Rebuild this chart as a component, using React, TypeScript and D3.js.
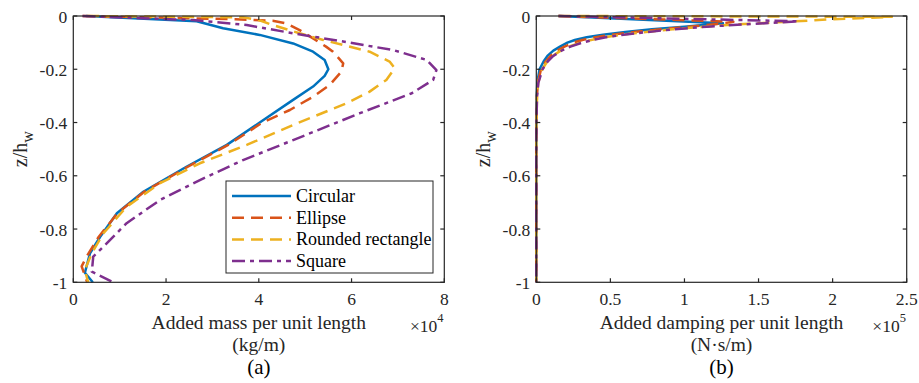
import React from "react";
import * as d3 from "d3";

const seriesNames = ["Circular", "Ellipse", "Rounded rectangle", "Square"];
const colors = ["#0072BD", "#D95319", "#EDB120", "#7E2F8E"];
const dashes = ["none", "12,7", "12,7", "13,5,4,5"];

const zTicks = [0, -0.2, -0.4, -0.6, -0.8, -1];
const massTicks = [0, 2, 4, 6, 8];
const dampTicks = [0, 0.5, 1, 1.5, 2, 2.5];

// Added mass per unit length (x 1e4 kg/m), pairs [value, z/hw]
const massCircular: [number, number][] = [
  [0.27, 0], [2.66, -0.02], [3.23, -0.046], [4.02, -0.071], [4.74, -0.103], [5.17, -0.134],
  [5.42, -0.165], [5.5, -0.2], [5.42, -0.225], [5.17, -0.265], [4.74, -0.315], [4.02, -0.4],
  [3.31, -0.484], [2.44, -0.566], [1.51, -0.66], [0.94, -0.741], [0.58, -0.829], [0.36, -0.891],
  [0.25, -0.964], [0.42, -1],
];
const massEllipse: [number, number][] = [
  [0.2, 0], [3.5, -0.012], [4.3, -0.018], [4.6, -0.028], [4.88, -0.053], [5.17, -0.084],
  [5.45, -0.115], [5.6, -0.134], [5.82, -0.178], [5.78, -0.209], [5.53, -0.259], [5.17, -0.303],
  [4.67, -0.353], [4.08, -0.4], [3.34, -0.484], [2.47, -0.566], [1.53, -0.66], [0.95, -0.741],
  [0.55, -0.829], [0.3, -0.9], [0.18, -0.94], [0.3, -1],
];
const massRounded: [number, number][] = [
  [0.3, 0], [3.66, -0.005], [4.0, -0.015], [4.3, -0.034], [4.88, -0.065], [5.39, -0.09],
  [6.39, -0.134], [6.82, -0.171], [6.93, -0.196], [6.75, -0.24], [6.39, -0.284], [5.89, -0.328],
  [4.74, -0.409], [3.74, -0.484], [2.73, -0.553], [1.87, -0.628], [1.15, -0.716], [0.65, -0.816],
  [0.4, -0.89], [0.25, -0.954], [0.32, -1],
];
const massSquare: [number, number][] = [
  [0.2, 0], [2.58, -0.015], [3.74, -0.034], [4.74, -0.065], [5.82, -0.096], [6.9, -0.128],
  [7.62, -0.165], [7.83, -0.203], [7.76, -0.24], [7.3, -0.29], [6.18, -0.365], [4.74, -0.466],
  [3.66, -0.541], [2.73, -0.616], [1.87, -0.691], [1.15, -0.778], [0.72, -0.854], [0.43, -0.904],
  [0.4, -0.96], [0.86, -1],
];

// Added damping per unit length (x 1e5 N·s/m), pairs [value, z/hw]
const dampCircular: [number, number][] = [
  [0.15, 0], [1.26, -0.027], [1.2, -0.03], [1.0, -0.04], [0.78, -0.05], [0.6, -0.06], [0.45, -0.07],
  [0.34, -0.08], [0.26, -0.09], [0.21, -0.1], [0.16, -0.115], [0.115, -0.13], [0.075, -0.15],
  [0.05, -0.17], [0.022, -0.2], [0.007, -0.25], [0.003, -0.3], [0.001, -0.4], [0, -0.5], [0, -0.6],
  [0, -0.7], [0, -0.8], [0, -0.9], [0, -1],
];
const dampEllipse: [number, number][] = [
  [0.15, 0], [1.33, -0.022], [1.22, -0.03], [1.03, -0.04], [0.84, -0.05], [0.66, -0.06], [0.51, -0.07],
  [0.4, -0.08], [0.31, -0.09], [0.25, -0.1], [0.19, -0.115], [0.14, -0.13], [0.095, -0.15],
  [0.065, -0.17], [0.032, -0.2], [0.01, -0.25], [0.004, -0.3], [0.001, -0.4], [0, -0.5], [0, -0.6],
  [0, -0.7], [0, -0.8], [0, -0.9], [0, -1],
];
const dampRounded: [number, number][] = [
  [0.15, 0], [2.4, -0.003], [2.0, -0.012], [1.75, -0.02], [1.4, -0.03], [1.13, -0.04], [0.92, -0.05],
  [0.74, -0.06], [0.58, -0.07], [0.46, -0.08], [0.37, -0.09], [0.3, -0.1], [0.22, -0.115],
  [0.165, -0.13], [0.11, -0.15], [0.075, -0.17], [0.04, -0.2], [0.013, -0.25], [0.005, -0.3],
  [0.001, -0.4], [0, -0.5], [0, -0.6], [0, -0.7], [0, -0.8], [0, -0.9], [0, -1],
];
const dampSquare: [number, number][] = [
  [0.15, 0], [1.77, -0.02], [1.45, -0.03], [1.15, -0.04], [0.93, -0.05], [0.75, -0.06], [0.59, -0.07],
  [0.47, -0.08], [0.38, -0.09], [0.31, -0.1], [0.23, -0.115], [0.17, -0.13], [0.115, -0.15],
  [0.078, -0.17], [0.042, -0.2], [0.014, -0.25], [0.005, -0.3], [0.001, -0.4], [0, -0.5], [0, -0.6],
  [0, -0.7], [0, -0.8], [0, -0.9], [0, -1],
];

const massSeries = [massCircular, massEllipse, massRounded, massSquare];
const dampSeries = [dampCircular, dampEllipse, dampRounded, dampSquare];

const FF = "Liberation Serif";
const TS: React.CSSProperties = { fontFamily: '"Liberation Serif"' };
const AX = "#262626";
const TOP = 16;
const BOTTOM = 282.3;

type PanelProps = {
  x0: number;
  x1: number;
  domain: [number, number];
  ticks: number[];
  data: [number, number][][];
  label: string;
  unit: string;
  exp: string;
  tag: string;
  legend?: boolean;
};

function Panel({ x0, x1, domain, ticks, data, label, unit, exp, tag, legend }: PanelProps) {
  const xs = d3.scaleLinear().domain(domain).range([x0, x1]);
  const ys = d3.scaleLinear().domain([-1, 0]).range([BOTTOM, TOP]);
  const line = d3
    .line<[number, number]>()
    .x((d) => xs(d[0]))
    .y((d) => ys(d[1]));
  const cx = (x0 + x1) / 2;
  const cy = (TOP + BOTTOM) / 2;
  const tl = 4;
  return (
    <g>
      {data.map((s, i) => (
        <path
          key={i}
          d={line(s) || ""}
          fill="none"
          stroke={colors[i]}
          strokeWidth={2.5}
          strokeDasharray={dashes[i]}
          strokeLinejoin="round"
        />
      ))}
      <rect x={x0} y={TOP} width={x1 - x0} height={BOTTOM - TOP} fill="none" stroke={AX} strokeWidth={1.2} />
      {ticks.map((t) => (
        <g key={"x" + t}>
          <line x1={xs(t)} x2={xs(t)} y1={BOTTOM} y2={BOTTOM - tl} stroke={AX} strokeWidth={1.2} />
          <line x1={xs(t)} x2={xs(t)} y1={TOP} y2={TOP + tl} stroke={AX} strokeWidth={1.2} />
          <text x={xs(t)} y={305} textAnchor="middle" fontSize="17.5px" fontFamily={FF} fill={AX} style={TS}>
            {String(t)}
          </text>
        </g>
      ))}
      {zTicks.map((t) => (
        <g key={"y" + t}>
          <line x1={x0} x2={x0 + tl} y1={ys(t)} y2={ys(t)} stroke={AX} strokeWidth={1.2} />
          <line x1={x1} x2={x1 - tl} y1={ys(t)} y2={ys(t)} stroke={AX} strokeWidth={1.2} />
          <text x={x0 - 6} y={ys(t) + 6.5} textAnchor="end" fontSize="17.5px" fontFamily={FF} fill={AX} style={TS}>
            {String(t)}
          </text>
        </g>
      ))}
      <text
        transform={`translate(${x0 - 46},${cy}) rotate(-90)`}
        textAnchor="middle"
        fontSize="20px"
        fontFamily={FF}
        fill={AX}
        style={TS}
      >
        z/h<tspan fontSize="16px" dy={6} fontFamily={FF} style={TS}>w</tspan>
      </text>
      <text x={cx} y={329} textAnchor="middle" fontSize="19.5px" fontFamily={FF} fill={AX} style={TS}>
        {label}
      </text>
      <text x={cx} y={351} textAnchor="middle" fontSize="19.5px" fontFamily={FF} fill={AX} style={TS}>
        {unit}
      </text>
      <text x={cx} y={374} textAnchor="middle" fontSize="21px" fontFamily={FF} fill="#000" style={TS}>
        {tag}
      </text>
      <text x={x1 - 7} y={332} textAnchor="end" fontSize="17.5px" fontFamily={FF} fill={AX} style={TS}>
        {"\u00d710"}
      </text>
      <text x={x1 - 7} y={322} textAnchor="start" fontSize="12.5px" fontFamily={FF} fill={AX} style={TS}>
        {exp}
      </text>
      {legend && (
        <g>
          <rect x={226} y={181} width={207} height={92} fill="#fff" stroke={AX} strokeWidth={1} />
          {seriesNames.map((n, i) => {
            const yy = 196 + i * 21.7;
            return (
              <g key={n}>
                <line
                  x1={232}
                  x2={291}
                  y1={yy}
                  y2={yy}
                  stroke={colors[i]}
                  strokeWidth={2.5}
                  strokeDasharray={dashes[i]}
                />
                <text x={296} y={yy + 6} fontSize="18px" fontFamily={FF} fill="#000" style={TS}>
                  {n}
                </text>
              </g>
            );
          })}
        </g>
      )}
    </g>
  );
}

export default function App() {
  return (
    <svg width={919} height={383} style={{ position: "absolute", left: 0, top: 0, background: "#fff" }}>
      <style>{`svg text, svg tspan { font-family: "Liberation Serif", serif !important; }`}</style>
      <rect width={919} height={383} fill="#fff" />
      <Panel
        x0={73.3}
        x1={444.3}
        domain={[0, 8]}
        ticks={massTicks}
        data={massSeries}
        label="Added mass per unit length"
        unit="(kg/m)"
        exp="4"
        tag="(a)"
        legend
      />
      <Panel
        x0={536.3}
        x1={906.7}
        domain={[0, 2.5]}
        ticks={dampTicks}
        data={dampSeries}
        label="Added damping per unit length"
        unit={"(N\u00b7s/m)"}
        exp="5"
        tag="(b)"
      />
    </svg>
  );
}
